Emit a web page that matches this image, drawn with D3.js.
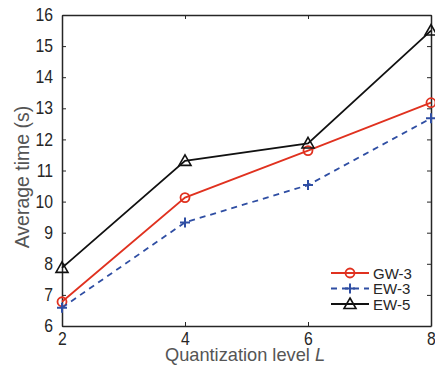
<!DOCTYPE html>
<html><head><meta charset="utf-8">
<script src="https://cdn.jsdelivr.net/npm/d3@7"></script>
<style>body{margin:0;background:#fff}svg{display:block}text{font-family:"Liberation Sans",Arial,sans-serif}</style>
</head><body>
<svg id="c" width="435" height="367"></svg>
<script>
const levels = [2, 4, 6, 8];
const gw3 = [6.78, 10.13, 11.64, 13.18];
const ew3 = [6.59, 9.33, 10.53, 12.68];
const ew5 = [7.87, 11.31, 11.87, 15.5];
const xTicks = [2, 4, 6, 8];
const yTicks = [6, 7, 8, 9, 10, 11, 12, 13, 14, 15, 16];
const seriesNames = ["GW-3", "EW-3", "EW-5"];

const svg = d3.select("#c");
const m = {l: 62, r: 431, t: 15, b: 326};
const x = d3.scaleLinear().domain([2, 8]).range([m.l, m.r]);
const y = d3.scaleLinear().domain([6, 16]).range([m.b, m.t]);
const axCol = "#262626";
const fmt = d3.format("d");

const gx = svg.append("g").attr("transform", `translate(0,${m.b})`)
  .call(d3.axisBottom(x).tickValues(xTicks).tickFormat(fmt).tickSizeInner(-4).tickSizeOuter(0));
const gxt = svg.append("g").attr("transform", `translate(0,${m.t})`)
  .call(d3.axisTop(x).tickValues(xTicks).tickSizeInner(-4).tickSizeOuter(0).tickFormat(""));
const gy = svg.append("g").attr("transform", `translate(${m.l},0)`)
  .call(d3.axisLeft(y).tickValues(yTicks).tickFormat(fmt).tickSizeInner(-4).tickSizeOuter(0));
const gyr = svg.append("g").attr("transform", `translate(${m.r},0)`)
  .call(d3.axisRight(y).tickValues(yTicks).tickSizeInner(-4).tickSizeOuter(0).tickFormat(""));
[gx, gxt, gy, gyr].forEach(g => {
  g.selectAll("path").attr("stroke", axCol).attr("stroke-width", 1.5);
  g.selectAll("line").attr("stroke", axCol).attr("stroke-width", 1);
  g.selectAll("text").attr("fill", axCol).style("font-size", "17.5px");
});
gx.selectAll("text").attr("y", 19.5).attr("dy", 0).attr("transform", "scale(0.9,1)");
gy.selectAll("text").attr("x", -10).attr("transform", "scale(0.9,1)");

svg.append("text").attr("transform", "translate(245,361) scale(0.96,1)").attr("text-anchor", "middle")
  .attr("fill", "#555").style("font-size", "19px")
  .html('Quantization level <tspan font-style="italic">L</tspan>');
svg.append("text").attr("transform", `translate(28.5,177) rotate(-90)`)
  .attr("text-anchor", "middle").attr("fill", "#555").style("font-size", "19.5px")
  .text("Average time (s)");

const series = [
  {name: seriesNames[0], vals: gw3, color: "#e0311f", dash: null, marker: "circle"},
  {name: seriesNames[1], vals: ew3, color: "#2f4ea3", dash: "6,5", marker: "plus"},
  {name: seriesNames[2], vals: ew5, color: "#111", dash: null, marker: "tri"}
];
const line = d3.line().x((d, i) => x(levels[i])).y(d => y(d));

function drawMarker(g, type, cx, cy, color) {
  if (type === "circle") {
    g.append("circle").attr("cx", cx).attr("cy", cy).attr("r", 4.5)
      .attr("fill", "none").attr("stroke", color).attr("stroke-width", 1.8);
  } else if (type === "plus") {
    g.append("path").attr("d", `M${cx-5},${cy}H${cx+5}M${cx},${cy-5}V${cy+5}`)
      .attr("stroke", color).attr("stroke-width", 2).attr("fill", "none");
  } else {
    g.append("path").attr("d", `M${cx},${cy-6}L${cx+6},${cy+4.5}L${cx-6},${cy+4.5}Z`)
      .attr("fill", "none").attr("stroke", color).attr("stroke-width", 1.6);
  }
}

series.forEach(s => {
  svg.append("path").datum(s.vals).attr("d", line).attr("fill", "none")
    .attr("stroke", s.color).attr("stroke-width", 1.8)
    .attr("stroke-dasharray", s.dash);
  const g = svg.append("g");
  s.vals.forEach((v, i) => drawMarker(g, s.marker, x(levels[i]), y(v), s.color));
});

// legend
const lg = svg.append("g");
series.forEach((s, i) => {
  const ly = 273 + i * 15.5;
  lg.append("line").attr("x1", 331).attr("x2", 369).attr("y1", ly).attr("y2", ly)
    .attr("stroke", s.color).attr("stroke-width", 1.8).attr("stroke-dasharray", s.dash);
  drawMarker(lg, s.marker, 350, ly, s.color);
  lg.append("text").attr("x", 373).attr("y", ly + 5.5).attr("fill", axCol)
    .style("font-size", "15px").text(s.name);
});
</script>
</body></html>
